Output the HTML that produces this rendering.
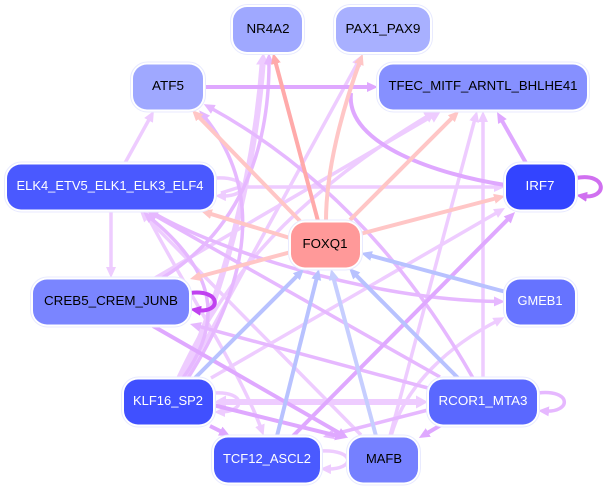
<!DOCTYPE html>
<html><head><meta charset="utf-8"><style>
html,body{margin:0;padding:0;background:#fff}
svg{display:block}
text{font-family:"Liberation Sans",sans-serif;font-size:13px;text-anchor:middle}
.o{fill:#fff;stroke:#e8eaff;stroke-width:1}
.e{fill:none}
.a{stroke:#eeccff;stroke-width:3.5}
.t{stroke:#eeccff;stroke-width:6}
.b{stroke:#e6b8ff;stroke-width:3.5}
.c{stroke:#dfa8ff;stroke-width:4}
.p{stroke:#ffc6c6;stroke-width:4}
.r{stroke:#ffaaaa;stroke-width:4}
.u{stroke:#b8c2ff;stroke-width:4}
.v{stroke:#c6ceff;stroke-width:4}
</style></head><body>
<svg width="606" height="489" viewBox="0 0 606 489" xmlns="http://www.w3.org/2000/svg">
<defs>
<marker id="ma" markerUnits="userSpaceOnUse" markerWidth="14" markerHeight="14" refX="5" refY="7" orient="auto"><path d="M0,2L11,7L0,12z" fill="#eeccff"/></marker>
<marker id="mt" markerUnits="userSpaceOnUse" markerWidth="16" markerHeight="16" refX="6" refY="8" orient="auto"><path d="M0,1.5L12,8L0,14.5z" fill="#eeccff"/></marker>
<marker id="mb" markerUnits="userSpaceOnUse" markerWidth="14" markerHeight="14" refX="5" refY="7" orient="auto"><path d="M0,2L11,7L0,12z" fill="#e6b8ff"/></marker>
<marker id="mc" markerUnits="userSpaceOnUse" markerWidth="14" markerHeight="14" refX="5" refY="7" orient="auto"><path d="M0,2L11,7L0,12z" fill="#dfa8ff"/></marker>
<marker id="mp" markerUnits="userSpaceOnUse" markerWidth="14" markerHeight="14" refX="5" refY="7" orient="auto"><path d="M0,2L11,7L0,12z" fill="#ffc6c6"/></marker>
<marker id="mr" markerUnits="userSpaceOnUse" markerWidth="14" markerHeight="14" refX="5" refY="7" orient="auto"><path d="M0,2L11,7L0,12z" fill="#ffaaaa"/></marker>
<marker id="mu" markerUnits="userSpaceOnUse" markerWidth="14" markerHeight="14" refX="5" refY="7" orient="auto"><path d="M0,2L11,7L0,12z" fill="#b8c2ff"/></marker>
<marker id="mv" markerUnits="userSpaceOnUse" markerWidth="14" markerHeight="14" refX="5" refY="7" orient="auto"><path d="M0,2L11,7L0,12z" fill="#c6ceff"/></marker>
<marker id="m1" markerUnits="userSpaceOnUse" markerWidth="14" markerHeight="14" refX="5" refY="7" orient="auto"><path d="M0,2L11,7L0,12z" fill="#c040f0"/></marker>
<marker id="m2" markerUnits="userSpaceOnUse" markerWidth="14" markerHeight="14" refX="5" refY="7" orient="auto"><path d="M0,2L11,7L0,12z" fill="#d070f0"/></marker>
</defs>

<g class="e">
<path class="a" d="M155,278L435.8,114" marker-end="url(#mt)"/>
<path class="a" d="M178,378C215,300 270,210 431,114" marker-end="url(#mt)"/>
<path class="t" d="M182,378C225,290 255,170 263,59" marker-end="url(#mt)"/>
<path class="t" d="M222,402L422,402" marker-end="url(#mt)"/>
<path d="M214,402L226,395.5L226,408.5z" fill="#eeccff"/>
<path class="a" d="M125,163L151,116" marker-end="url(#ma)"/>
<path class="a" d="M390,436L475.5,116.8" marker-end="url(#ma)"/>
<path class="a" d="M483,378L483,117" marker-end="url(#ma)"/>
<path class="a" d="M211,378L499.8,211" marker-end="url(#ma)"/>
<path class="a" d="M240,187L499,187" marker-end="url(#ma)"/>
<path class="a" d="M361,435L144.2,215.3" marker-end="url(#ma)"/>
<path class="a" d="M111,211L111,272" marker-end="url(#ma)"/>
<path class="a" d="M145,211C180,280 240,370 261.6,430" marker-end="url(#ma)"/>
<path class="a" d="M391,436C405,385 450,345 499,320" marker-end="url(#ma)"/>
<path class="a" d="M185,378L359,60.3" marker-end="url(#ma)"/>
<path class="a" d="M215,178C250,176 250,197 221,196" marker-end="url(#ma)"/>
<path class="a" d="M240,187L221,193"/>
<path class="a" d="M214,393C246,391 246,412 220,412" marker-end="url(#ma)"/>
<path class="a" d="M320,451C356,449 356,470 326,469" marker-end="url(#ma)"/>
<path class="b" d="M183,378C225,320 215,270 148,216" marker-end="url(#mb)"/>
<path class="b" d="M473,378C440,320 360,190 209,107" marker-end="url(#mb)"/>
<path class="b" d="M440,377L152.2,214" marker-end="url(#mb)"/>
<path class="b" d="M428,388L195.8,325.6" marker-end="url(#mb)"/>
<path class="b" d="M428,410L328.8,435.5" marker-end="url(#mb)"/>
<path class="b" d="M150,211C215,250 370,300 499,301.5" marker-end="url(#mb)"/>
<path class="b" d="M162,278C225,240 270,170 269,59" marker-end="url(#mb)"/>
<path class="b" d="M188,378C250,280 265,190 203,115" marker-end="url(#mb)"/>
<path class="b" d="M538,393C572,389 572,413 544,411" marker-end="url(#mb)"/>
<path class="c" d="M204,87L372,87" marker-end="url(#mc)"/>
<path class="c" d="M526,163L500,117.2" marker-end="url(#mc)"/>
<path class="c" d="M505,185C440,175 345,145 351,93"/>
<path class="c" d="M293,436L510.8,216.3" marker-end="url(#mc)"/>
<path class="c" d="M153,326L342.8,435" marker-end="url(#mc)"/>
<path class="c" d="M213,405L340.2,436.6" marker-end="url(#mc)"/>
<path class="c" d="M441,425L424,435" marker-end="url(#mc)"/>
<path class="c" d="M210,426L224.7,433.3" marker-end="url(#mc)"/>
<path class="r" d="M318,221L274.6,58.8" marker-end="url(#mr)"/>
<path class="p" d="M326,221C326,170 342,110 360.6,59.5" marker-end="url(#mp)"/>
<path class="p" d="M350,220L454.8,115.2" marker-end="url(#mp)"/>
<path class="p" d="M360,234L499.2,197.5" marker-end="url(#mp)"/>
<path class="p" d="M300,221L196.2,114.3" marker-end="url(#mp)"/>
<path class="p" d="M290,238L206.7,212.7" marker-end="url(#mp)"/>
<path class="p" d="M291,252L195.8,277.5" marker-end="url(#mp)"/>
<path class="u" d="M506,292L366.8,254.6" marker-end="url(#mu)"/>
<path class="u" d="M458,378L353.2,272.3" marker-end="url(#mu)"/>
<path class="v" d="M376,436L332.6,274.8" marker-end="url(#mv)"/>
<path class="u" d="M277,436L317.5,274.8" marker-end="url(#mu)"/>
<path class="u" d="M195,378L299.8,273.2" marker-end="url(#mu)"/>
<path d="M576,178C608,172 608,200 582,196" stroke="#d070f0" stroke-width="4" marker-end="url(#m2)"/>
<path d="M190,293C222,289 222,314 196,310" stroke="#c040f0" stroke-width="4" marker-end="url(#m1)"/>
</g>

<g>
<rect class="o" x="230.5" y="4.5" width="74" height="50" rx="17"/><rect x="233" y="7" width="69" height="45" rx="14" fill="#9fa8ff"/>
<rect class="o" x="333.5" y="4.5" width="99" height="50" rx="17"/><rect x="336" y="7" width="94" height="45" rx="14" fill="#a8b0ff"/>
<rect class="o" x="130.5" y="62" width="75" height="50" rx="17"/><rect x="133" y="64.5" width="70" height="45" rx="14" fill="#9fa8ff"/>
<rect class="o" x="376.5" y="62" width="213" height="50" rx="17"/><rect x="379" y="64.5" width="208" height="45" rx="14" fill="#8690ff"/>
<rect class="o" x="4.5" y="162" width="212" height="50" rx="17"/><rect x="7" y="164.5" width="207" height="45" rx="14" fill="#4a59ff"/>
<rect class="o" x="503.5" y="162" width="74" height="50" rx="17"/><rect x="506" y="164.5" width="69" height="45" rx="14" fill="#3344ff"/>
<rect class="o" x="288.5" y="220" width="74" height="50" rx="17"/><rect x="291" y="222.5" width="69" height="45" rx="14" fill="#ff9999"/>
<rect class="o" x="30.5" y="277" width="161" height="50" rx="17"/><rect x="33" y="279.5" width="156" height="45" rx="14" fill="#7a85ff"/>
<rect class="o" x="503.5" y="277" width="74" height="50" rx="17"/><rect x="506" y="279.5" width="69" height="45" rx="14" fill="#6673ff"/>
<rect class="o" x="121.5" y="377" width="94" height="50" rx="17"/><rect x="124" y="379.5" width="89" height="45" rx="14" fill="#4050ff"/>
<rect class="o" x="426.5" y="377" width="113" height="50" rx="17"/><rect x="429" y="379.5" width="108" height="45" rx="14" fill="#5a68ff"/>
<rect class="o" x="211.5" y="435" width="111" height="50" rx="17"/><rect x="214" y="437.5" width="106" height="45" rx="14" fill="#4a5aff"/>
<rect class="o" x="346.5" y="435" width="74" height="50" rx="17"/><rect x="349" y="437.5" width="69" height="45" rx="14" fill="#7580ff"/>
</g>

<text x="268" y="33" textLength="43" lengthAdjust="spacingAndGlyphs" fill="#000">NR4A2</text>
<text x="383" y="33" textLength="75" lengthAdjust="spacingAndGlyphs" fill="#000">PAX1_PAX9</text>
<text x="168" y="90" textLength="32" lengthAdjust="spacingAndGlyphs" fill="#000">ATF5</text>
<text x="483" y="90" textLength="189" lengthAdjust="spacingAndGlyphs" fill="#000">TFEC_MITF_ARNTL_BHLHE41</text>
<text x="110" y="190" textLength="187" lengthAdjust="spacingAndGlyphs" fill="#fff">ELK4_ETV5_ELK1_ELK3_ELF4</text>
<text x="540" y="190" textLength="29" lengthAdjust="spacingAndGlyphs" fill="#fff">IRF7</text>
<text x="325" y="248" textLength="45" lengthAdjust="spacingAndGlyphs" fill="#000">FOXQ1</text>
<text x="111" y="305" textLength="134" lengthAdjust="spacingAndGlyphs" fill="#000">CREB5_CREM_JUNB</text>
<text x="540" y="305" textLength="45" lengthAdjust="spacingAndGlyphs" fill="#fff">GMEB1</text>
<text x="168" y="405" textLength="70" lengthAdjust="spacingAndGlyphs" fill="#fff">KLF16_SP2</text>
<text x="483" y="405" textLength="89" lengthAdjust="spacingAndGlyphs" fill="#fff">RCOR1_MTA3</text>
<text x="267" y="463" textLength="88" lengthAdjust="spacingAndGlyphs" fill="#fff">TCF12_ASCL2</text>
<text x="384" y="463" textLength="36" lengthAdjust="spacingAndGlyphs" fill="#000">MAFB</text>
</svg>
</body></html>
